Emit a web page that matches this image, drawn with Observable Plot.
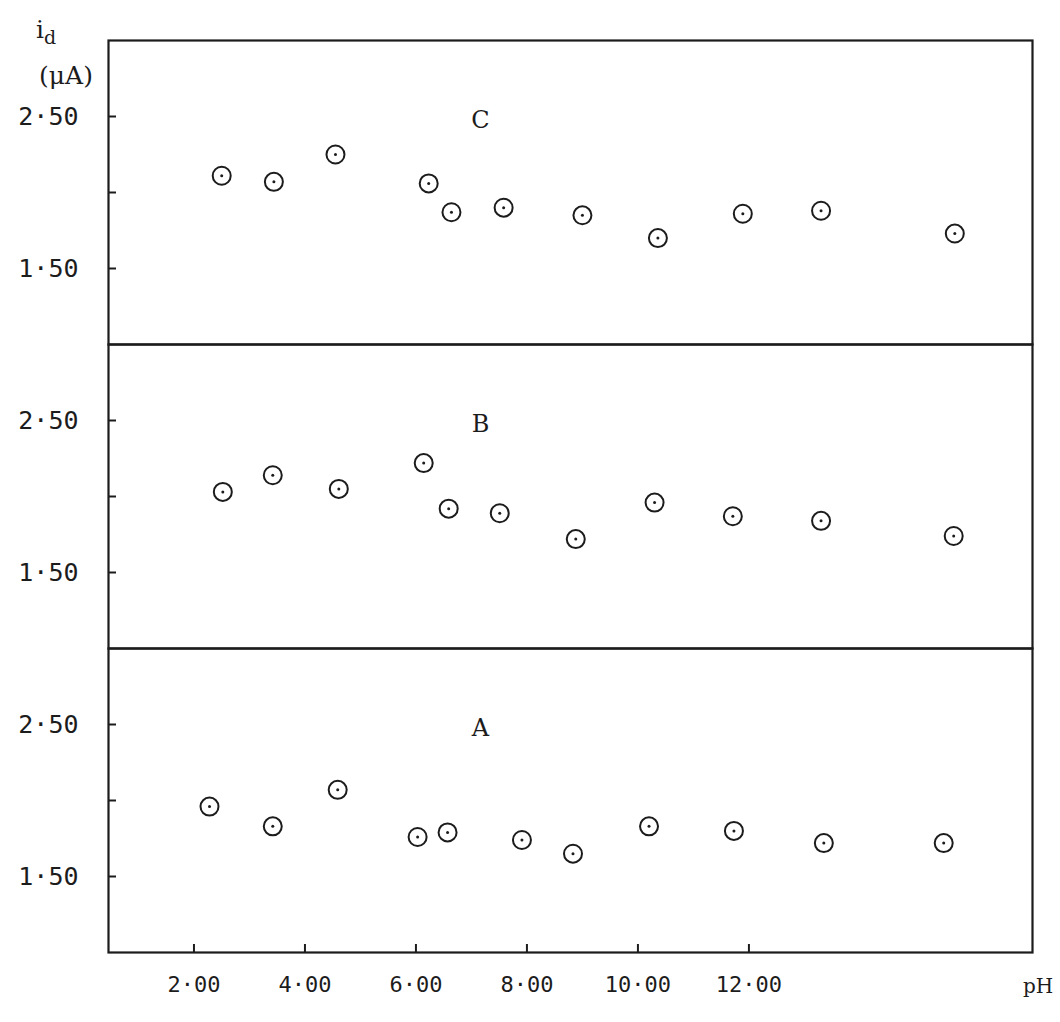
<!DOCTYPE html>
<html>
<head>
<meta charset="utf-8">
<script src="https://cdn.jsdelivr.net/npm/d3@7"></script>
<script src="https://cdn.jsdelivr.net/npm/@observablehq/plot@0.6"></script>
<style>
  html, body { margin: 0; padding: 0; background: #ffffff; }
</style>
</head>
<body>
<div id="chart"></div>
<script>
// Panels (top to bottom)
const panels = ["C", "B", "A"];

// Panel C
const phC = [2.50, 3.44, 4.55, 6.23, 6.64, 7.58, 9.00, 10.36, 11.89, 13.30, 15.71];
const idC = [2.11, 2.07, 2.25, 2.06, 1.87, 1.90, 1.85, 1.70, 1.86, 1.88, 1.73];
// Panel B
const phB = [2.52, 3.42, 4.61, 6.14, 6.59, 7.51, 8.88, 10.30, 11.71, 13.30, 15.69];
const idB = [2.03, 2.14, 2.05, 2.22, 1.92, 1.89, 1.72, 1.96, 1.87, 1.84, 1.74];
// Panel A
const phA = [2.28, 3.42, 4.59, 6.03, 6.57, 7.91, 8.83, 10.20, 11.73, 13.35, 15.51];
const idA = [1.96, 1.83, 2.07, 1.76, 1.79, 1.74, 1.65, 1.83, 1.80, 1.72, 1.72];

// Axis ticks
const xTicks = [2, 4, 6, 8, 10, 12];
const yTicks = [1.5, 2.0, 2.5];
const yLabelTicks = [1.5, 2.5];

const fmt = (v) => v.toFixed(2).replace(".", "\u00B7");

const rows = [];
[["C", phC, idC], ["B", phB, idB], ["A", phA, idA]].forEach(([p, xs, ys]) => {
  xs.forEach((x, i) => rows.push({panel: p, ph: x, id: ys[i]}));
});

const ink = "#1c1c1c";
const numFont = "'DejaVu Sans Mono', monospace";

const chart = Plot.plot({
  width: 1060,
  height: 1022,
  marginTop: 40,
  marginBottom: 70,
  marginLeft: 108,
  marginRight: 28,
  style: {background: "#ffffff", color: ink, fontFamily: numFont},
  x: {domain: [0.46, 17.11], axis: null},
  y: {domain: [1.0, 3.0], axis: null},
  fy: {domain: panels, axis: null, padding: 0},
  marks: [
    Plot.frame({stroke: ink, strokeWidth: 2.2}),
    Plot.axisY({ticks: yTicks, tickSize: -8, text: null, label: null, stroke: ink, strokeWidth: 2}),
    Plot.axisY({ticks: yLabelTicks, tickSize: 0, tickPadding: 30, tickFormat: fmt, label: null, fontSize: 25, fill: ink}),
    Plot.axisX({ticks: xTicks, tickSize: -8, text: null, label: null, stroke: ink, strokeWidth: 2}),
    Plot.axisX({ticks: xTicks, tickSize: 0, tickPadding: 24, tickFormat: fmt, label: null, fontSize: 22, fill: ink}),
    Plot.dot(rows, {x: "ph", y: "id", fy: "panel", r: 9, stroke: ink, strokeWidth: 2, fill: "none"}),
    Plot.dot(rows, {x: "ph", y: "id", fy: "panel", r: 1.5, fill: ink, stroke: null}),
    Plot.text(panels, {fy: (d) => d, text: (d) => d, frameAnchor: "top-left", dx: 372, dy: 80,
      textAnchor: "middle", lineAnchor: "middle", fontSize: 24, fontFamily: "'DejaVu Serif', serif", fill: ink})
  ]
});

document.getElementById("chart").appendChild(chart);

// Axis titles (i_d in µA, pH)
const svg = d3.select(chart);
const yt = svg.append("text")
  .attr("x", 46).attr("y", 38)
  .attr("font-family", "'DejaVu Serif', serif")
  .attr("font-size", 25)
  .attr("fill", ink);
yt.append("tspan").text("i");
yt.append("tspan").attr("dy", 6).attr("font-size", 19).text("d");
svg.append("text")
  .attr("x", 66).attr("y", 84)
  .attr("text-anchor", "middle")
  .attr("font-family", "'DejaVu Serif', serif")
  .attr("font-size", 25)
  .attr("fill", ink)
  .text("(\u03BCA)");
svg.append("text")
  .attr("x", 1038).attr("y", 993)
  .attr("font-family", "'DejaVu Serif', serif")
  .attr("font-size", 20)
  .attr("fill", ink)
  .text("pH");
</script>
</body>
</html>
